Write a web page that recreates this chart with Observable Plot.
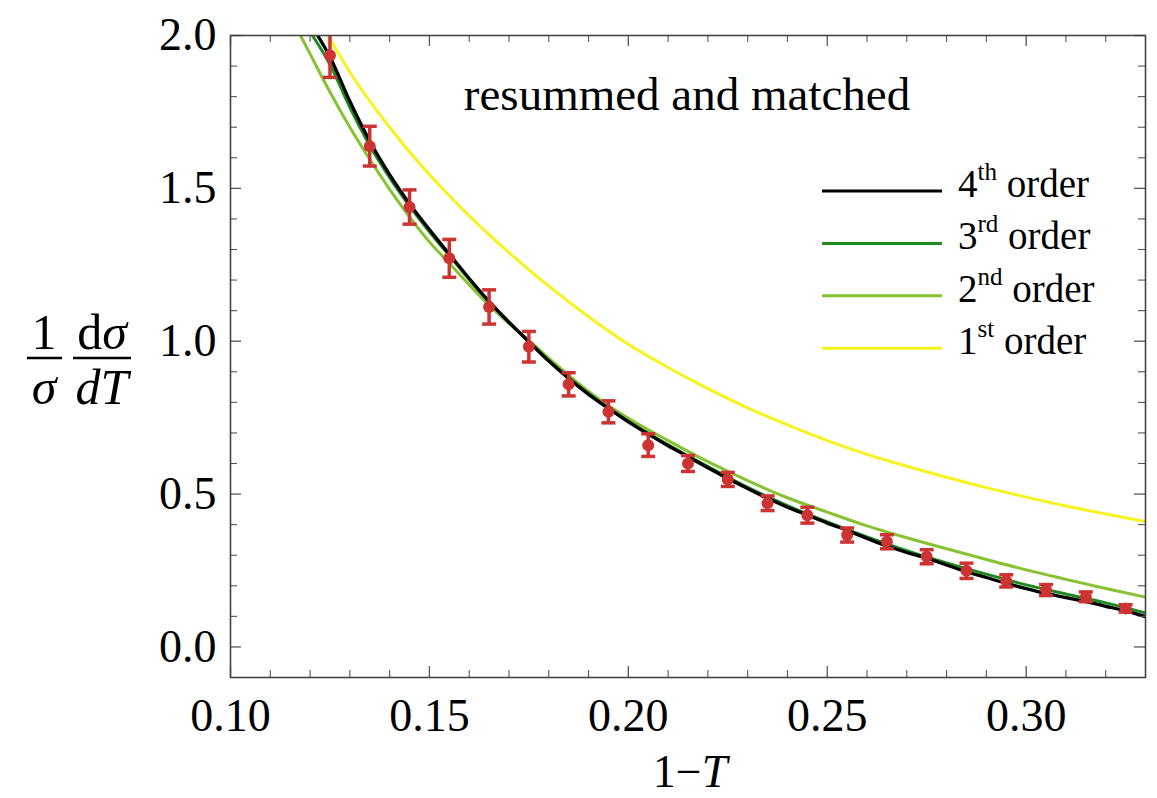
<!DOCTYPE html>
<html><head><meta charset="utf-8">
<script src="https://cdn.jsdelivr.net/npm/d3@7"></script>
<script src="https://cdn.jsdelivr.net/npm/@observablehq/plot@0.6"></script>
<style>body{margin:0;background:#fff;} #chart{width:1157px;height:798px;}</style>
</head><body><div id="chart"></div>
<script>
// Measured data (1-T, value, error)
const dataT = [0.125,0.135,0.145,0.155,0.165,0.175,0.185,0.195,0.205,0.215,0.225,0.235,0.245,0.255,0.265,0.275,0.285,0.295,0.305,0.315,0.325];
const dataY = [1.935,1.638,1.439,1.271,1.112,0.982,0.859,0.769,0.660,0.600,0.548,0.470,0.431,0.366,0.344,0.295,0.249,0.216,0.186,0.164,0.126];
const dataErr = [0.072,0.065,0.056,0.062,0.056,0.050,0.038,0.036,0.037,0.026,0.023,0.024,0.026,0.023,0.023,0.023,0.025,0.020,0.018,0.016,0.012];

// 4th order
const o4T = [0.1219,0.125,0.13,0.135,0.14,0.145,0.15,0.155,0.16,0.165,0.17,0.175,0.18,0.185,0.19,0.195,0.20,0.205,0.21,0.215,0.22,0.225,0.23,0.235,0.24,0.245,0.25,0.255,0.26,0.265,0.27,0.275,0.28,0.285,0.29,0.295,0.30,0.305,0.31,0.315,0.32,0.325,0.33];
const o4Y = [2.0,1.93,1.785,1.655,1.545,1.45,1.365,1.285,1.205,1.13,1.062,0.998,0.935,0.878,0.826,0.780,0.736,0.696,0.658,0.622,0.586,0.551,0.518,0.486,0.457,0.431,0.405,0.381,0.355,0.330,0.309,0.290,0.268,0.246,0.227,0.208,0.191,0.175,0.161,0.148,0.133,0.118,0.099];
// 3rd order
const o3T = [0.1206,0.125,0.13,0.135,0.14,0.145,0.15,0.155,0.16,0.165,0.17,0.175,0.18,0.19,0.20,0.21,0.22,0.23,0.24,0.25,0.26,0.27,0.28,0.29,0.30,0.31,0.32,0.33];
const o3Y = [2.0,1.905,1.765,1.64,1.535,1.442,1.358,1.28,1.202,1.128,1.061,0.999,0.937,0.829,0.739,0.661,0.590,0.522,0.462,0.409,0.360,0.315,0.275,0.238,0.203,0.173,0.144,0.111];
// 2nd order
const o2T = [0.1176,0.12,0.125,0.13,0.135,0.14,0.145,0.15,0.155,0.16,0.165,0.17,0.175,0.18,0.19,0.20,0.21,0.22,0.23,0.24,0.25,0.26,0.27,0.28,0.29,0.30,0.31,0.32,0.33];
const o2Y = [2.0,1.94,1.815,1.70,1.595,1.497,1.407,1.325,1.255,1.185,1.118,1.058,1.003,0.945,0.836,0.748,0.675,0.606,0.544,0.488,0.441,0.396,0.357,0.321,0.286,0.252,0.221,0.191,0.163];
// 1st order
const o1T = [0.1245,0.13,0.14,0.15,0.16,0.17,0.18,0.19,0.20,0.21,0.22,0.23,0.24,0.25,0.26,0.27,0.28,0.29,0.30,0.31,0.32,0.33];
const o1Y = [2.0,1.88,1.70,1.545,1.41,1.29,1.18,1.08,0.99,0.914,0.845,0.782,0.726,0.675,0.630,0.591,0.555,0.521,0.490,0.461,0.435,0.41];

const majorX = [0.10,0.15,0.20,0.25,0.30];
const minorX = [0.11,0.12,0.13,0.14,0.16,0.17,0.18,0.19,0.21,0.22,0.23,0.24,0.26,0.27,0.28,0.29,0.31,0.32];
const majorY = [0.0,0.5,1.0,1.5,2.0];
const minorY = [0.1,0.2,0.3,0.4,0.6,0.7,0.8,0.9,1.1,1.2,1.3,1.4,1.6,1.7,1.8,1.9];

const legendItems = [
  {num:"4", sup:"th", color:"#000000"},
  {num:"3", sup:"rd", color:"#1f8a1f"},
  {num:"2", sup:"nd", color:"#86c232"},
  {num:"1", sup:"st", color:"#f8f21e"}
];

const RED = "#cc3333";
const W = 1157, H = 798, mL = 230, mR = 12, mT = 35, mB = 121;
const innerH = H - mT - mB, innerW = W - mL - mR;
const FONT = "Liberation Serif, Times New Roman, serif";

const pts = dataT.map((t,i)=>({t, v:dataY[i], e:dataErr[i]}));
const toRows = (T,Y)=>T.map((t,i)=>({t, v:Y[i]}));
const capSymbol = {draw(ctx){ ctx.moveTo(-7,0); ctx.lineTo(7,0); }};
const tickStroke = "#555";

const svg = Plot.plot({
  width: W, height: H,
  marginLeft: mL, marginRight: mR, marginTop: mT, marginBottom: mB,
  style: {fontFamily: FONT, background: "white", color: "black"},
  x: {domain: [0.10, 0.33]},
  y: {domain: [-0.1, 2.0]},
  marks: [
    Plot.line(toRows(o1T,o1Y), {x:"t", y:"v", stroke:legendItems[3].color, strokeWidth:3, curve:"monotone-x", clip:true}),
    Plot.line(toRows(o2T,o2Y), {x:"t", y:"v", stroke:legendItems[2].color, strokeWidth:3, curve:"monotone-x", clip:true}),
    Plot.line(toRows(o3T,o3Y), {x:"t", y:"v", stroke:legendItems[1].color, strokeWidth:3, curve:"monotone-x", clip:true}),
    Plot.line(toRows(o4T,o4Y), {x:"t", y:"v", stroke:legendItems[0].color, strokeWidth:3.3, curve:"monotone-x", clip:true}),
    Plot.ruleX(pts, {x:"t", y1:d=>d.v-d.e, y2:d=>d.v+d.e, stroke:RED, strokeWidth:3.5, clip:true}),
    Plot.dot(pts, {x:"t", y:d=>d.v+d.e, symbol:capSymbol, stroke:RED, fill:"none", strokeWidth:3.5, clip:true}),
    Plot.dot(pts, {x:"t", y:d=>d.v-d.e, symbol:capSymbol, stroke:RED, fill:"none", strokeWidth:3.5, clip:true}),
    Plot.dot(pts, {x:"t", y:"v", r:6, fill:RED, stroke:null, clip:true}),
    // inward ticks on all four sides
    Plot.tickX(majorX, {x:d=>d, insetTop: innerH-11, stroke:tickStroke, strokeWidth:1.3}),
    Plot.tickX(minorX, {x:d=>d, insetTop: innerH-7, stroke:tickStroke, strokeWidth:1.1}),
    Plot.tickX(majorX, {x:d=>d, insetBottom: innerH-11, stroke:tickStroke, strokeWidth:1.3}),
    Plot.tickX(minorX, {x:d=>d, insetBottom: innerH-7, stroke:tickStroke, strokeWidth:1.1}),
    Plot.tickY(majorY, {y:d=>d, insetRight: innerW-11, stroke:tickStroke, strokeWidth:1.3}),
    Plot.tickY(minorY, {y:d=>d, insetRight: innerW-7, stroke:tickStroke, strokeWidth:1.1}),
    Plot.tickY(majorY, {y:d=>d, insetLeft: innerW-11, stroke:tickStroke, strokeWidth:1.3}),
    Plot.tickY(minorY, {y:d=>d, insetLeft: innerW-7, stroke:tickStroke, strokeWidth:1.1}),
    Plot.frame({stroke:"#444", strokeWidth:1.6}),
    Plot.axisX(majorX, {tickSize:0, tickPadding:21, tickFormat:d3.format(".2f"), fontSize:46, fontFamily:FONT, fill:"black", label:null}),
    Plot.axisY(majorY, {tickSize:0, tickPadding:14, tickFormat:d3.format(".1f"), fontSize:46, fontFamily:FONT, fill:"black", label:null})
  ]
});

const s = d3.select(svg);
// Title inside the plot
s.append("text").attr("x", 687).attr("y", 110).attr("text-anchor","middle")
  .attr("font-family", FONT).attr("font-size", 47).attr("fill","black").text("resummed and matched");

// Legend
const lg = s.append("g").attr("font-family", FONT).attr("fill","black").attr("text-anchor","start");
legendItems.forEach((d,i)=>{
  const y = 191 + i*52.4;
  lg.append("line").attr("x1",822).attr("x2",942).attr("y1",y).attr("y2",y)
    .attr("stroke", d.color).attr("stroke-width",3);
  const t = lg.append("text").attr("x",958).attr("y",y+6).attr("font-size",39).attr("text-anchor","start");
  t.append("tspan").text(d.num);
  t.append("tspan").attr("font-size",25).attr("dy",-17).text(d.sup);
  t.append("tspan").attr("dy",17).text(" order");
});

// X axis label "1−T"
const xl = s.append("text").attr("x", 690).attr("y", 787).attr("text-anchor","middle")
  .attr("font-family", FONT).attr("font-size", 46).attr("fill","black");
xl.append("tspan").text("1\u2212");
xl.append("tspan").attr("font-style","italic").text("T");

// Y axis label: (1/σ)(dσ/dT)
const yl = s.append("g").attr("font-family", FONT).attr("font-size", 50).attr("fill","black");
yl.append("text").attr("x",44).attr("y",349).attr("text-anchor","middle").text("1");
yl.append("line").attr("x1",27).attr("x2",62).attr("y1",358).attr("y2",358).attr("stroke","black").attr("stroke-width",2.5);
yl.append("text").attr("x",44).attr("y",404).attr("text-anchor","middle").attr("font-style","italic").text("\u03C3");
const num = yl.append("text").attr("x",102).attr("y",349).attr("text-anchor","middle");
num.append("tspan").text("d");
num.append("tspan").attr("font-style","italic").text("\u03C3");
yl.append("line").attr("x1",73).attr("x2",131).attr("y1",358).attr("y2",358).attr("stroke","black").attr("stroke-width",2.5);
const den = yl.append("text").attr("x",102).attr("y",404).attr("text-anchor","middle").attr("font-style","italic");
den.append("tspan").text("dT");

document.getElementById("chart").appendChild(svg);
</script>
</body></html>
